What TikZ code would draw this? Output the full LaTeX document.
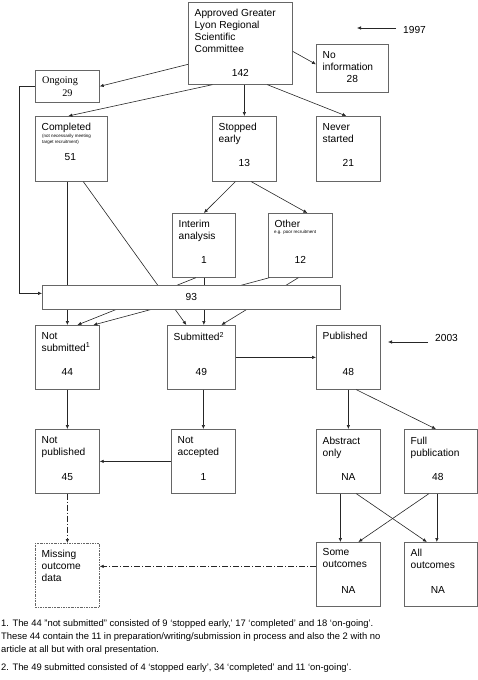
\documentclass[tikz,border=0pt]{standalone}
\usepackage{fontspec}
\setmainfont{Liberation Sans}
\newfontfamily\timesfont{Liberation Serif}
\usetikzlibrary{arrows.meta}

\begin{document}
\begin{tikzpicture}[x=1pt,y=-1pt]
  \tikzstyle{box}=[draw=black!60, line width=0.7pt, anchor=north west, inner sep=0pt, minimum width=64pt, minimum height=64pt]
  \tikzstyle{ttl}=[anchor=north west, inner sep=0pt, align=left, font=\fontsize{10.2}{12}\selectfont]
  \tikzstyle{num}=[inner sep=0pt, font=\fontsize{10.2}{12}\selectfont]
  \tikzstyle{note}=[anchor=north west, inner sep=0pt, align=left, font=\fontsize{4.5}{6}\selectfont]
  \tikzstyle{foot}=[anchor=north west, inner sep=0pt, align=left, font=\fontsize{9.4}{13}\selectfont]
  \tikzstyle{arr}=[-{Latex[length=4pt,width=3.5pt]}, black!85, line width=0.6pt]
  \tikzstyle{dashdotline}=[arr, dash pattern=on 6pt off 2pt on 1pt off 2pt]
  \useasboundingbox (0,0) rectangle (478,680);

  % boxes
  \node[box, minimum width=104pt, minimum height=82pt] (approved) at (188,2) {};
  \node[box, minimum height=32pt] (ongoing) at (35,70) {};
  \node[box, minimum width=72pt, minimum height=48pt] (noinfo) at (316,44) {};
  \node[box, minimum width=72pt, minimum height=65pt] (completed) at (35,116) {};
  \node[box, minimum height=65pt] (stopped) at (212,116) {};
  \node[box, minimum height=65pt] (never) at (316,116) {};
  \node[box, minimum width=63pt] (interim) at (172,213) {};
  \node[box] (other) at (268,213) {};
  \node[box] (notsub) at (35,325) {};
  \node[box, minimum width=68pt] (submitted) at (167,325) {};
  \node[box] (published) at (316,325) {};
  \node[box] (notpub) at (35,429) {};
  \node[box] (notacc) at (171,429) {};
  \node[box] (abstract) at (316,429) {};
  \node[box, minimum width=73pt] (full) at (404,429) {};
  \node[box, dash pattern=on 2pt off 1pt on 0.6pt off 1pt] (missing) at (35,543) {};
  \node[box] (some) at (316,542) {};
  \node[box, minimum width=73pt] (all) at (404,542) {};

  % titles
  \node[ttl] (approvedT) at ([xshift=6.5pt,yshift=-7pt]approved.north west) {Approved Greater\\Lyon Regional\\Scientific\\Committee};
  \node[ttl, font=\fontsize{10.2}{12}\timesfont] (ongoingT) at ([xshift=7pt,yshift=-7pt]ongoing.north west) {Ongoing};
  \node[ttl] (noinfoT) at ([xshift=6.5pt,yshift=-7pt]noinfo.north west) {No\\information};
  \node[ttl] (completedT) at ([xshift=6.5pt,yshift=-7pt]completed.north west) {Completed};
  \node[note] (completedS) at ([xshift=7pt,yshift=-18.5pt]completed.north west) {(not necessarily meeting\\target recruitment)};
  \node[ttl] (stoppedT) at ([xshift=6.5pt,yshift=-7pt]stopped.north west) {Stopped\\early};
  \node[ttl] (neverT) at ([xshift=6.5pt,yshift=-7pt]never.north west) {Never\\started};
  \node[ttl] (interimT) at ([xshift=6.5pt,yshift=-7pt]interim.north west) {Interim\\analysis};
  \node[ttl] (otherT) at ([xshift=6.5pt,yshift=-7pt]other.north west) {Other};
  \node[note] (otherS) at ([xshift=6pt,yshift=-17.5pt]other.north west) {e.g. poor recruitment};
  \node[ttl] (notsubT) at ([xshift=6.5pt,yshift=-7pt]notsub.north west) {Not\\submitted\textsuperscript{1}};
  \node[ttl] (submittedT) at ([xshift=6.5pt,yshift=-7pt]submitted.north west) {Submitted\textsuperscript{2}};
  \node[ttl] (publishedT) at ([xshift=6.5pt,yshift=-7pt]published.north west) {Published};
  \node[ttl] (notpubT) at ([xshift=6.5pt,yshift=-7.5pt]notpub.north west) {Not\\published};
  \node[ttl] (notaccT) at ([xshift=6.5pt,yshift=-7.5pt]notacc.north west) {Not\\accepted};
  \node[ttl] (abstractT) at ([xshift=6.5pt,yshift=-7.5pt]abstract.north west) {Abstract\\only};
  \node[ttl] (fullT) at ([xshift=6.5pt,yshift=-7.5pt]full.north west) {Full\\publication};
  \node[ttl] (missingT) at ([xshift=6.5pt,yshift=-6.5pt]missing.north west) {Missing\\outcome\\data};
  \node[ttl] (someT) at ([xshift=6.5pt,yshift=-6.5pt]some.north west) {Some\\outcomes};
  \node[ttl] (allT) at ([xshift=6.5pt,yshift=-6.5pt]all.north west) {All\\outcomes};

  % numbers
  \node[num] (approvedN) at ([yshift=-71pt]approved.north) {142};
  \node[num, font=\fontsize{10.2}{12}\timesfont] (ongoingN) at ([yshift=-23pt]ongoing.north) {29};
  \node[num] (noinfoN) at ([yshift=-35pt]noinfo.north) {28};
  \node[num] (completedN) at ([xshift=-1pt,yshift=-41pt]completed.north) {51};
  \node[num] (stoppedN) at ([yshift=-47pt]stopped.north) {13};
  \node[num] (neverN) at ([yshift=-47pt]never.north) {21};
  \node[num] (interimN) at ([yshift=-47pt]interim.north) {1};
  \node[num] (otherN) at ([yshift=-47pt]other.north) {12};
  \node[num] (notsubN) at ([yshift=-47pt]notsub.north) {44};
  \node[num] (submittedN) at ([yshift=-47pt]submitted.north) {49};
  \node[num] (publishedN) at ([yshift=-47pt]published.north) {48};
  \node[num] (notpubN) at ([yshift=-48pt]notpub.north) {45};
  \node[num] (notaccN) at ([yshift=-48pt]notacc.north) {1};
  \node[num] (abstractN) at ([yshift=-48pt]abstract.north) {NA};
  \node[num] (fullN) at ([xshift=-3pt,yshift=-48pt]full.north) {48};
  \node[num] (someN) at ([yshift=-48pt]some.north) {NA};
  \node[num] (allN) at ([xshift=-3pt,yshift=-48pt]all.north) {NA};

  % lines running behind the 93 box
  \draw[arr] (completed.south -| notsub.north) -- (notsub.north);
  \draw[arr] ([xshift=12pt]completed.south) -- ([xshift=-15pt]submitted.north);
  \draw[arr] ([xshift=-8pt]interim.south) -- ([xshift=10pt]notsub.north);
  \draw[arr] (interim.south) -- (interim.south |- submitted.north);
  \draw[arr] ([xshift=-31pt]other.south) -- ([xshift=26pt]notsub.north);
  \draw[arr] ([xshift=-2pt]other.south) -- ([xshift=20pt]submitted.north);
  \node[box, fill=white, minimum width=298pt, minimum height=24pt, font=\fontsize{10.2}{12}\selectfont] (total) at (42,285) {93};

  % connectors
  \draw[arr] ([yshift=-21pt]approved.west) -- (ongoing.east);
  \draw[arr] ([yshift=-8pt]approved.east) -- ([yshift=4pt]noinfo.west);
  \draw[arr] ([xshift=-28pt]approved.south) -- ([xshift=-3pt]completed.north);
  \draw[arr] (approved.south -| stopped.north) -- (stopped.north);
  \draw[arr] ([xshift=27pt]approved.south) -- ([xshift=-2pt]never.north);
  \draw[arr] ([xshift=-9pt]stopped.south) -- (interim.north);
  \draw[arr] ([xshift=7pt]stopped.south) -- ([xshift=7pt]other.north);
  \draw[arr] (ongoing.west) -- ++(-16pt,0) |- ([yshift=4pt]total.west);
  \draw[arr] (notsub.south) -- (notpub.north);
  \draw[arr] (notacc.north |- submitted.south) -- (notacc.north);
  \draw[arr] (submitted.east) -- (published.west);
  \draw[arr] (published.south) -- (abstract.north);
  \draw[arr] ([xshift=8pt]published.south) -- ([xshift=-5pt]full.north);
  \draw[arr] (notacc.west) -- (notacc.west -| notpub.east);
  \draw[arr] ([xshift=-8pt]abstract.south) -- ([xshift=-8pt]some.north);
  \draw[arr] ([xshift=8pt]abstract.south) -- ([xshift=-14pt]all.north);
  \draw[arr] ([xshift=-12pt]full.south) -- ([xshift=10pt]some.north);
  \draw[arr] ([xshift=-4pt]full.south) -- ([xshift=-4pt]all.north);
  \draw[dashdotline] (notpub.south) -- (missing.north);
  \draw[dashdotline] ([yshift=8pt]some.west) -- ([yshift=8pt]some.west -| missing.east);

  % years
  \node[num, anchor=west] (y1997) at (403,30) {1997};
  \coordinate (y1997tip) at (357,28);
  \draw[arr] ([xshift=-7pt,yshift=2pt]y1997.west) -- (y1997tip);
  \node[num, anchor=west] (y2003) at (435,338) {2003};
  \coordinate (y2003tip) at (388,342);
  \draw[arr] ([xshift=-7pt,yshift=-4pt]y2003.west) -- (y2003tip);

  % footnotes
  \node[foot] (foot1) at (1,619) {1. The 44 "not submitted" consisted of 9 ‘stopped early,’ 17 ‘completed’ and 18 ‘on-going’.\\These 44 contain the 11 in preparation/writing/submission in process and also the 2 with no\\article at all but with oral presentation.};
  \node[foot] (foot2) at (1,663) {2. The 49 submitted consisted of 4 ‘stopped early’, 34 ‘completed’ and 11 ‘on-going’.};
\end{tikzpicture}
\end{document}
